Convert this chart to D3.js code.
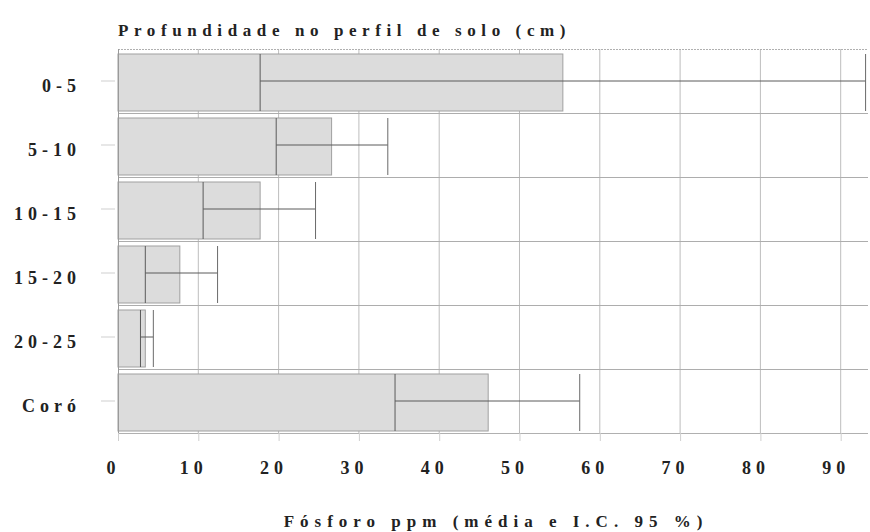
<!DOCTYPE html>
<html>
<head>
<meta charset="utf-8">
<script src="https://cdn.jsdelivr.net/npm/d3@7"></script>
<style>
  html, body { margin: 0; padding: 0; background: #fff; }
  svg { display: block; }
  text { font-family: "Liberation Serif", "DejaVu Serif", serif; font-weight: bold; fill: #222; }
</style>
</head>
<body>
<svg id="chart" width="870" height="532"></svg>
<script>
const categories = ["0-5", "5-10", "10-15", "15-20", "20-25", "Coró"];
const means      = [55.4, 26.6, 17.7, 7.7, 3.4, 46.1];
const lowerCI    = [17.7, 19.7, 10.6, 3.4, 2.8, 34.5];
const upperCI    = [93.1, 33.6, 24.6, 12.4, 4.4, 57.5];
const xTicks     = [0, 10, 20, 30, 40, 50, 60, 70, 80, 90];
const chartTitle = "Profundidade no perfil de solo (cm)";
const xTitle     = "Fósforo ppm (média e I.C. 95 %)";

const svg = d3.select("#chart");
const margin = { left: 118, right: 2, top: 49, bottom: 99 };
const W = 870, H = 532;
const x = d3.scaleLinear().domain([0, 93.4]).range([margin.left, W - margin.right]);
const y = d3.scaleBand().domain(categories).range([margin.top, H - margin.bottom]).padding(0);
const bw = y.bandwidth();

svg.append("defs").append("clipPath").attr("id", "plotclip")
  .append("rect").attr("x", margin.left).attr("y", margin.top)
  .attr("width", W - margin.right - margin.left).attr("height", H - margin.bottom - margin.top);

// vertical grid lines
svg.append("g").selectAll("line").data(xTicks.filter(d => d > 0)).join("line")
  .attr("x1", d => x(d)).attr("x2", d => x(d))
  .attr("y1", margin.top).attr("y2", H - margin.bottom)
  .attr("stroke", "#bdbdbd").attr("stroke-width", 1);

// horizontal separators
svg.append("g").selectAll("line").data(categories).join("line")
  .attr("x1", margin.left).attr("x2", W - margin.right)
  .attr("y1", d => Math.round(y(d) + bw) + 0.5).attr("y2", d => Math.round(y(d) + bw) + 0.5)
  .attr("stroke", "#adadad").attr("stroke-width", 1);

// top border
svg.append("line").attr("x1", margin.left).attr("x2", W - margin.right)
  .attr("y1", margin.top + 0.5).attr("y2", margin.top + 0.5)
  .attr("stroke", "#b0b0b0").attr("stroke-dasharray", "2,1");

const data = categories.map((c, i) => ({ c, m: means[i], lo: lowerCI[i], hi: upperCI[i] }));

// bars
svg.append("g").selectAll("rect").data(data).join("rect")
  .attr("x", x(0)).attr("y", d => y(d.c) + 5)
  .attr("width", d => x(d.m) - x(0)).attr("height", bw - 7)
  .attr("fill", "#dcdcdc").attr("stroke", "#a0a0a0").attr("stroke-width", 1);

// CI
const ci = svg.append("g").attr("clip-path", "url(#plotclip)");
ci.selectAll("line.h").data(data).join("line").attr("class", "h")
  .attr("x1", d => x(d.lo)).attr("x2", d => x(d.hi))
  .attr("y1", d => y(d.c) + bw / 2).attr("y2", d => y(d.c) + bw / 2)
  .attr("stroke", "#5a5a5a").attr("stroke-width", 1);
ci.selectAll("line.lo").data(data).join("line").attr("class", "lo")
  .attr("x1", d => x(d.lo)).attr("x2", d => x(d.lo))
  .attr("y1", d => y(d.c) + 5).attr("y2", d => y(d.c) + bw - 2)
  .attr("stroke", "#5a5a5a").attr("stroke-width", 1);
ci.selectAll("line.hi").data(data).join("line").attr("class", "hi")
  .attr("x1", d => x(d.hi)).attr("x2", d => x(d.hi))
  .attr("y1", d => y(d.c) + 5).attr("y2", d => y(d.c) + bw - 2)
  .attr("stroke", "#6a6a6a").attr("stroke-width", 1);

// left axis line
svg.append("line").attr("x1", margin.left + 0.5).attr("x2", margin.left + 0.5)
  .attr("y1", margin.top).attr("y2", H - margin.bottom)
  .attr("stroke", "#9a9a9a");
// bottom line
svg.append("line").attr("x1", margin.left).attr("x2", W - margin.right)
  .attr("y1", H - margin.bottom + 0.5).attr("y2", H - margin.bottom + 0.5)
  .attr("stroke", "#b0b0b0");

// x axis
const xAxis = d3.axisBottom(x).tickValues(xTicks).tickSize(8).tickPadding(33).tickFormat(d3.format("d"));
const gx = svg.append("g").attr("transform", `translate(0,${H - margin.bottom})`).call(xAxis);
gx.select(".domain").remove();
gx.selectAll(".tick line").attr("stroke", "#cfcfcf");
gx.selectAll(".tick text").attr("font-size", 18).attr("letter-spacing", "5px")
  .attr("font-family", "Liberation Serif").attr("font-weight", "bold").attr("fill", "#222")
  .attr("dx", "-5px").attr("dy", "0");

// y axis
const yAxis = d3.axisLeft(y).tickSize(14).tickPadding(20);
const gy = svg.append("g").attr("transform", `translate(${margin.left - 3},0)`).call(yAxis);
gy.select(".domain").remove();
gy.selectAll(".tick line").attr("stroke", "#cfcfcf");
gy.selectAll(".tick text").attr("font-size", 18).attr("letter-spacing", "5px")
  .attr("font-family", "Liberation Serif").attr("font-weight", "bold").attr("fill", "#222")
  .attr("dy", "0.6em");

// titles
svg.append("text").attr("x", margin.left).attr("y", 36)
  .attr("font-size", 17).attr("letter-spacing", "5.6px").text(chartTitle);
svg.append("text").attr("x", (margin.left + W - margin.right) / 2 + 3).attr("y", 527)
  .attr("text-anchor", "middle")
  .attr("font-size", 17).attr("letter-spacing", "6px").text(xTitle);
</script>
</body>
</html>
